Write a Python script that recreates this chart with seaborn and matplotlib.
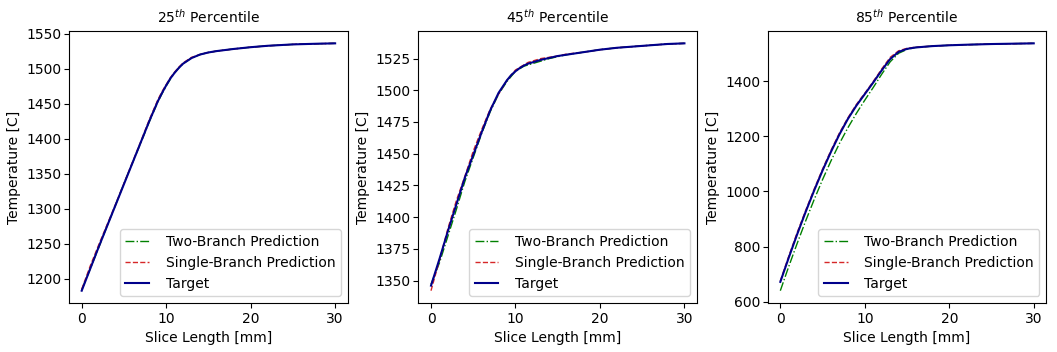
import matplotlib
matplotlib.use("Agg")
import matplotlib.pyplot as plt
import numpy as np
import pandas as pd
import seaborn as sns

plt.rcParams['font.family'] = ['DejaVu Sans']
plt.rcParams['font.size'] = 10
plt.rcParams['ytick.major.pad'] = 1.8
plt.rcParams['xtick.major.pad'] = 2.8

# slice length positions [mm]
x_mm = [0, 1, 2, 3, 4, 5, 6, 7, 8, 9, 9.5, 10, 10.5, 11, 11.5, 12, 13, 14, 15, 16, 18, 20, 22, 25, 28, 30]

# 25th percentile
p25_target = [1183, 1214, 1245, 1275, 1305, 1335, 1365, 1395, 1425, 1453, 1465, 1476, 1486, 1494, 1501, 1507,
              1515, 1520, 1523, 1525, 1528, 1530.5, 1532.5, 1534.5, 1535.5, 1536]
p25_two = [1184, 1214, 1244, 1275, 1305, 1336, 1365, 1394, 1424, 1452, 1464, 1475, 1485, 1494, 1501, 1507,
           1515, 1520, 1523, 1525, 1528, 1530.5, 1532.5, 1534.5, 1535.5, 1536]
p25_single = [1185, 1218, 1248, 1277, 1306, 1336, 1366, 1396, 1427, 1455, 1467, 1477, 1487, 1495, 1502, 1508,
              1516, 1520, 1523, 1525, 1528, 1530.5, 1532.5, 1534.5, 1535.5, 1536]

# 45th percentile
p45_target = [1346, 1367, 1389, 1410, 1431, 1449, 1467, 1484, 1498, 1508, 1512, 1515, 1517.5, 1519.5, 1521,
              1522, 1524, 1525.5, 1527, 1528, 1530, 1532, 1533.5, 1535, 1536.5, 1537]
p45_two = [1347, 1364, 1385, 1406, 1428, 1447, 1466, 1483, 1497, 1507, 1511, 1515, 1517, 1519, 1520,
           1521, 1523, 1525, 1526.5, 1528, 1530, 1532, 1533.5, 1535, 1536.5, 1537]
p45_single = [1342, 1366, 1391, 1413, 1432, 1452, 1469, 1485, 1497, 1508, 1512, 1516, 1518, 1520, 1522,
              1523, 1525, 1526, 1527, 1528.5, 1530, 1532, 1533.5, 1535, 1536.5, 1537]

# 85th percentile
p85_target = [672, 760, 845, 926, 1003, 1076, 1144, 1207, 1263, 1311, 1332, 1353, 1374, 1395, 1417,
              1439, 1480, 1506, 1517, 1522, 1527, 1530, 1532, 1534.5, 1536, 1537]
p85_two = [640, 728, 812, 893, 970, 1043, 1111, 1174, 1231, 1283, 1307, 1331, 1354, 1377, 1401,
           1425, 1470, 1501, 1515, 1522, 1527, 1530, 1532, 1534.5, 1536, 1537]
p85_single = [675, 765, 851, 931, 1008, 1081, 1149, 1212, 1267, 1315, 1336, 1356, 1377, 1399, 1421,
              1444, 1486, 1510, 1519, 1523, 1527, 1530, 1532, 1534.5, 1536, 1537]

panels = [
    ("25", p25_two, p25_single, p25_target),
    ("45", p45_two, p45_single, p45_target),
    ("85", p85_two, p85_single, p85_target),
]

fig, axes = plt.subplots(1, 3, figsize=(10.57, 3.52), dpi=100)
fig.subplots_adjust(left=0.0653, right=0.990, bottom=0.139, top=0.912, wspace=0.253)

for ax, (pct, two, single, target) in zip(axes, panels):
    df = pd.DataFrame({"x": x_mm, "two": two, "single": single, "target": target})
    sns.lineplot(data=df, x="x", y="two", ax=ax, color="green", linestyle="-.", linewidth=1,
                 label="Two-Branch Prediction")
    sns.lineplot(data=df, x="x", y="single", ax=ax, color="tab:red", linestyle="--", linewidth=1,
                 label="Single-Branch Prediction")
    sns.lineplot(data=df, x="x", y="target", ax=ax, color="darkblue", linestyle="-", linewidth=1.5,
                 label="Target")
    ax.set_title(f"{pct}$^{{th}}$ Percentile", fontsize=10)
    ax.set_xlabel("Slice Length [mm]", fontsize=10)
    ax.set_ylabel("Temperature [C]", fontsize=10)
    ax.set_xticks([0, 10, 20, 30])
    ax.legend(loc="lower right", fontsize=10, handlelength=1.7, handletextpad=1.2)

axes[2].set_yticks([600, 800, 1000, 1200, 1400])

fig.savefig("out.png", dpi=100)
